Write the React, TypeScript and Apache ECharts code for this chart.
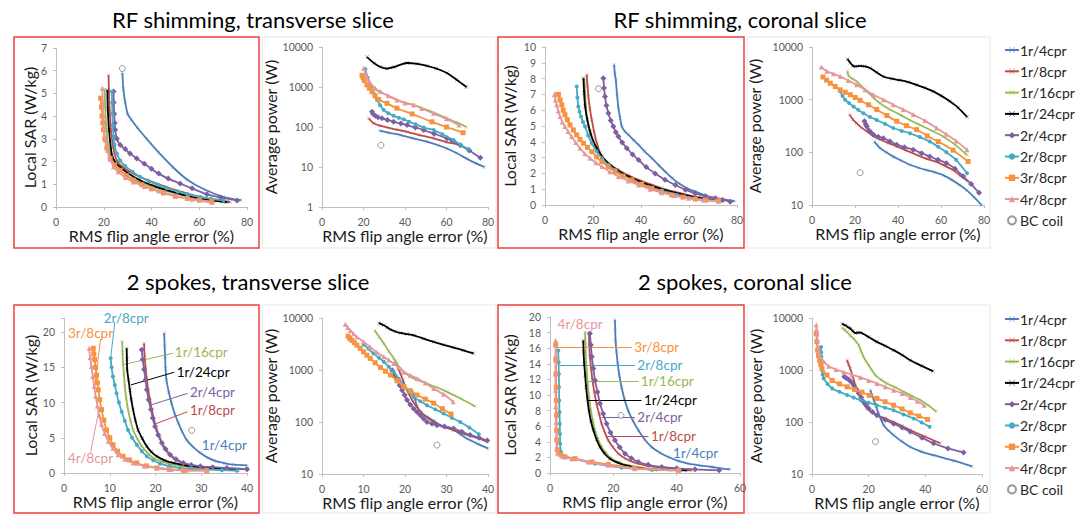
import React, { useEffect, useRef } from 'react';
import * as echarts from 'echarts';

// ---------- names & tick ranges ----------
const SERIES_NAMES = ['1r/4cpr', '1r/8cpr', '1r/16cpr', '1r/24cpr', '2r/4cpr', '2r/8cpr', '3r/8cpr', '4r/8cpr'];
const BC_NAME = 'BC coil';
const PANEL_TITLES = ['RF shimming, transverse slice', 'RF shimming, coronal slice', '2 spokes, transverse slice', '2 spokes, coronal slice'];
const X_NAME = 'RMS flip angle error (%)';
const SAR_NAME = 'Local SAR (W/kg)';
const POW_NAME = 'Average power (W)';

// ---------- data: [RMS flip angle error %, value] per series, order = SERIES_NAMES ----------
// RF shimming, transverse slice – Local SAR
const rfTransSar: number[][][] = [
  [[27.8, 5.9], [28.2, 5.2], [29, 4.6], [30, 4.1], [31.5, 3.85], [34, 3.5], [38, 3.0], [43, 2.4], [49, 1.75], [55, 1.2], [62, 0.78], [70, 0.45], [77.5, 0.3]],
  [[22, 5.8], [22.2, 5.0], [22.5, 4.2], [23, 3.4], [24, 2.6], [25.5, 2.05], [28, 1.75], [32.4, 1.47], [38, 1.2], [46.4, 0.88], [53, 0.65], [60.4, 0.44], [67, 0.3], [73, 0.22]],
  [[20.4, 5.2], [20.6, 4.4], [21, 3.6], [21.8, 2.8], [23, 2.2], [25, 1.8], [28, 1.5], [33, 1.2], [40, 0.9], [48, 0.65], [56, 0.45], [64, 0.3], [70, 0.22]],
  [[21.5, 5.15], [21.7, 4.3], [22.2, 3.4], [23.4, 2.3], [25, 1.95], [27, 1.75], [30, 1.5], [35.2, 1.18], [41, 0.93], [46.4, 0.74], [53, 0.55], [60.4, 0.37], [66, 0.28], [71.6, 0.22]],
  [[24.1, 5.08], [24.2, 4.6], [24.4, 4.1], [24.6, 3.7], [24.8, 3.4], [25.5, 3.0], [26.9, 2.73], [29, 2.55], [31, 2.35], [33.8, 2.14], [37, 1.9], [40, 1.68], [43, 1.47], [47, 1.25], [52, 1.03], [57, 0.82], [63.2, 0.56], [69, 0.42], [75.8, 0.29]],
  [[23.4, 5.08], [23.5, 4.6], [23.6, 4.1], [23.8, 3.6], [24.1, 3.1], [24.5, 2.75], [25.5, 2.35], [26.9, 2.05], [29, 1.8], [32, 1.55], [35.2, 1.33], [39, 1.13], [43, 0.97], [46.4, 0.83], [51, 0.68], [55, 0.57], [60.4, 0.44], [65, 0.36], [70.2, 0.29]],
  [[18.7, 4.79], [19, 4.4], [19.3, 4.0], [19.6, 3.7], [19.9, 3.4], [20.5, 3.0], [21.3, 2.6], [22.7, 2.14], [24.5, 1.85], [26.9, 1.62], [29.5, 1.38], [32.4, 1.18], [36, 0.98], [40, 0.8], [45, 0.62], [50, 0.47], [55, 0.38], [60, 0.3], [65.3, 0.25]],
  [[19.4, 5.23], [19.6, 4.6], [19.8, 4.0], [20.1, 3.5], [20.6, 2.95], [21.5, 2.5], [22.7, 2.1], [24.1, 1.77], [26, 1.55], [29, 1.3], [32.4, 1.1], [37, 0.9], [43, 0.7], [50, 0.5], [57, 0.34], [65.3, 0.2]],
];
const rfTransSarBC = [[27.8, 6.1]];

// RF shimming, transverse slice – Average power
const rfTransPow: number[][][] = [
  [[27.8, 81], [32, 72], [37.8, 63], [44, 52], [50.6, 43], [56, 35], [60.2, 29], [65, 22], [69.9, 16], [74, 12.5], [78.2, 10]],
  [[22.5, 165], [24.9, 124], [28, 108], [31.3, 98], [36, 86], [41, 76], [47, 63], [53.8, 52], [60, 42], [66.7, 35], [70.7, 26]],
  [[20.4, 2960], [22, 1700], [24.9, 940], [28, 750], [34.5, 525], [40, 400], [44.2, 355], [52, 250], [60.2, 165], [65, 130], [69.6, 100]],
  [[21.7, 5600], [25, 4000], [28, 3200], [31.3, 2880], [35, 3200], [41, 3980], [46, 3800], [50.6, 3390], [55, 2900], [60.2, 2230], [65, 1500], [69.6, 1000]],
  [[24.1, 240], [24.6, 210], [25.7, 190], [27, 175], [28.9, 165], [31.5, 150], [34.5, 135], [38, 122], [41, 112], [45, 97], [49, 84], [54, 68], [60.2, 52], [63, 44], [66.7, 35], [71, 26], [76.3, 17]],
  [[20.9, 2800], [22, 1700], [23.5, 1000], [25, 680], [26.5, 475], [28, 350], [29.7, 268], [32, 220], [34.5, 190], [37, 170], [39.4, 155], [42, 135], [45, 117], [49, 97], [53.8, 84], [58, 66], [63.5, 47], [67, 35], [70.7, 28]],
  [[19.3, 1950], [19.8, 1700], [20.4, 1450], [21.7, 1130], [22.8, 930], [24.1, 770], [25.6, 600], [27.3, 490], [31.3, 390], [36.1, 295], [43.4, 212], [53, 135], [60, 100], [68, 72]],
  [[20.1, 2960], [21, 2100], [22, 1600], [23.3, 1250], [25.5, 950], [28.1, 770], [32, 600], [36.1, 475], [40, 400], [44.2, 355], [48, 290], [53.8, 220], [60, 160], [66, 112]],
];
const rfTransPowBC = [[28.4, 35]];

// RF shimming, coronal slice – Local SAR
const rfCorSar: number[][][] = [
  [[28.8, 8.88], [29.1, 8.3], [29.5, 7.93], [30, 7.0], [30.6, 6.13], [31.3, 5.5], [32, 4.97], [33.3, 4.65], [34.8, 4.44], [37, 4.1], [39, 3.8], [41.5, 3.4], [44.5, 2.96], [47.5, 2.5], [50.1, 2.11], [53, 1.7], [55.7, 1.37], [59, 1.08], [62.6, 0.85], [66, 0.65], [69.6, 0.49], [74, 0.37], [79, 0.25]],
  [[17.4, 8.25], [17.7, 7.5], [18.1, 6.87], [18.7, 6.1], [19.5, 5.39], [20.5, 4.6], [21.6, 3.91], [23, 3.3], [25, 2.85], [27.5, 2.5], [30.6, 2.22], [34.5, 1.9], [39, 1.59], [44, 1.3], [48.7, 1.06], [55, 0.8], [62.6, 0.53], [68, 0.38], [73.7, 0.25]],
  [[16.4, 7.97], [16.8, 6.8], [17.4, 5.7], [18.1, 4.97], [19.3, 4.3], [20.9, 3.7], [22.8, 3.2], [25, 2.75], [28, 2.35], [32, 2.01], [36, 1.7], [40.3, 1.42], [46, 1.12], [51.5, 0.85], [57, 0.64], [62.6, 0.47], [68, 0.35], [73.7, 0.25]],
  [[16, 8.03], [16.3, 7.1], [16.7, 6.24], [17.6, 5.4], [18.8, 4.65], [20, 4.1], [21.6, 3.59], [23.8, 3.05], [26.4, 2.64], [30, 2.2], [34.8, 1.8], [39.5, 1.48], [44.5, 1.21], [50, 0.94], [57, 0.68], [64, 0.45], [72.3, 0.25]],
  [[24.3, 8.03], [24.6, 7.4], [25, 6.87], [25.6, 6.3], [26.4, 5.81], [27.4, 5.35], [28.5, 4.97], [29.5, 4.6], [30.6, 4.33], [32.2, 3.95], [34.1, 3.59], [36.5, 3.2], [39, 2.85], [42.2, 2.4], [45.9, 2.0], [50, 1.6], [54.3, 1.27], [58.5, 0.97], [62.6, 0.74], [67, 0.55], [71, 0.42], [74, 0.32], [77.2, 0.21]],
  [[13.2, 7.5], [13.5, 6.8], [13.9, 6.24], [14.4, 5.9], [15, 5.6], [15.8, 5.25], [16.7, 4.97], [18, 4.4], [19.5, 3.91], [21.5, 3.4], [23.7, 2.96], [26.3, 2.55], [29.2, 2.22], [33, 1.83], [37.6, 1.48], [43, 1.15], [48.7, 0.91], [55, 0.65], [62.6, 0.42], [67, 0.32], [72.3, 0.23]],
  [[4.9, 6.98], [5.6, 7.0], [6.3, 6.65], [7, 6.34], [7.6, 6.0], [8.3, 5.71], [9.3, 5.4], [10.4, 5.07], [11.8, 4.75], [13.2, 4.44], [14.6, 4.15], [16, 3.91], [17.7, 3.65], [19.5, 3.38], [21.5, 3.05], [23.7, 2.75], [26.3, 2.42], [29.2, 2.11], [32.5, 1.83], [36.2, 1.59], [40.3, 1.32], [44.5, 1.06], [48.5, 0.83], [52.9, 0.63], [57.5, 0.5], [62.6, 0.38], [67, 0.31], [72.3, 0.27]],
  [[3.9, 6.98], [4.3, 6.65], [4.9, 6.34], [5.5, 5.95], [6.3, 5.6], [7.2, 5.25], [8.3, 4.97], [9.6, 4.65], [11.1, 4.33], [12.8, 3.95], [14.6, 3.59], [16.6, 3.25], [18.8, 2.96], [21.2, 2.68], [23.7, 2.43], [27, 2.1], [30.6, 1.8], [34.7, 1.52], [39, 1.27], [43.8, 1.0], [48.7, 0.78], [54, 0.58], [59.8, 0.42], [66, 0.31], [72.3, 0.23]],
];
const rfCorSarBC = [[22.3, 7.36]];

// RF shimming, coronal slice – Average power
const rfCorPow: number[][][] = [
  [[29, 160], [30.3, 138], [31.7, 120], [34.5, 100], [37.8, 83], [41.5, 70], [45.6, 58], [49.5, 51], [53.3, 46], [57, 42], [61, 37], [65, 30], [68.7, 24], [72, 19], [75.5, 14], [78.8, 10]],
  [[17.5, 520], [19, 420], [20.8, 355], [23, 295], [25.5, 250], [28.5, 205], [31.7, 175], [35.5, 150], [39.4, 130], [44, 108], [48.6, 90], [53, 76], [57.9, 66], [62, 55], [65.6, 46], [69, 36], [72.6, 28]],
  [[16.5, 3470], [17, 2840], [18.8, 2500], [20.8, 2220], [23, 1800], [25.5, 1440], [28.5, 1100], [31.7, 850], [36, 660], [40.9, 520], [45.5, 410], [50.2, 330], [55.5, 260], [61, 200], [66.5, 140], [72.1, 89]],
  [[16.5, 5900], [17.8, 5000], [19, 4400], [20.1, 4270], [22.4, 4380], [24.5, 4300], [27, 3980], [30, 3300], [33.2, 2750], [37, 2500], [40.9, 2340], [44.8, 2150], [48.6, 1910], [52.5, 1680], [56.4, 1440], [60.2, 1180], [64.1, 930], [68, 700], [72.1, 470]],
  [[24.4, 390], [25, 340], [25.5, 310], [26.5, 260], [27.5, 235], [28.6, 215], [30.8, 198], [33.2, 185], [36.2, 162], [39.4, 140], [43, 125], [47.1, 112], [51, 96], [54.8, 83], [58.6, 72], [62.5, 62], [66.5, 49], [70.3, 35], [74, 25], [77.7, 17]],
  [[13.1, 1440], [14.2, 1180], [15.4, 1000], [17.2, 860], [19.3, 740], [21.5, 640], [23.9, 550], [27, 470], [30.1, 410], [34, 345], [37.8, 290], [41.7, 255], [45.6, 230], [50.2, 195], [54.8, 160], [58.7, 128], [62.5, 100], [67, 72], [72.1, 40]],
  [[5.1, 2690], [6.8, 2350], [8.5, 2050], [10.8, 1780], [13.1, 1540], [15.5, 1380], [17.8, 1240], [20.1, 1100], [22.4, 970], [26.3, 800], [30.1, 650], [34.8, 500], [39.4, 390], [44, 320], [48.6, 270], [53.6, 205], [58.7, 160], [65.6, 110], [72.6, 67]],
  [[4.3, 4170], [6.9, 3470], [10, 3100], [13.1, 2770], [16.9, 2300], [20.8, 1910], [24.7, 1550], [28.6, 1240], [33.2, 1000], [37.8, 800], [42.4, 650], [47.1, 520], [52.5, 400], [57.9, 290], [62.5, 220], [67, 165], [72.1, 112]],
];
const rfCorPowBC = [[22.4, 41]];

// 2 spokes, transverse slice – Local SAR
const spTransSar: number[][][] = [
  [[21.9, 19.86], [22, 18], [22.1, 16.5], [22.2, 14.8], [22.4, 13.2], [22.9, 11.5], [23.5, 9.9], [24.2, 8.4], [25, 7.1], [25.8, 5.9], [26.8, 4.7], [28.2, 3.7], [29.8, 2.84], [31.5, 2.15], [33.4, 1.65], [35.2, 1.38], [37.1, 1.18], [40, 1.09]],
  [[17.5, 18.4], [17.6, 16.8], [17.8, 15.1], [18.1, 13.4], [18.4, 11.8], [18.8, 10.4], [19.2, 9.0], [19.7, 7.5], [20.3, 6.1], [21, 4.9], [21.7, 3.78], [22.7, 2.9], [23.9, 2.13], [25.3, 1.6], [26.8, 1.18], [29.5, 0.9], [32.7, 0.71], [36, 0.62], [40, 0.57]],
  [[12.7, 18.7], [12.8, 17.1], [12.9, 15.6], [13.1, 14], [13.3, 12.3], [13.6, 10.6], [14, 9.0], [14.5, 7.5], [15.1, 6.1], [16, 4.9], [17, 3.78], [18.2, 2.9], [19.5, 2.13], [21.5, 1.6], [23.9, 1.18], [27.5, 0.85], [31.2, 0.61], [37.1, 0.43]],
  [[13.7, 17.7], [13.75, 16.2], [13.8, 14.7], [14.1, 13.2], [14.4, 11.8], [14.7, 10.4], [15.1, 9.0], [15.6, 7.5], [16.2, 6.1], [17.1, 4.9], [18.1, 3.78], [19.1, 3.0], [20.3, 2.36], [22, 1.8], [23.9, 1.42], [26.5, 1.1], [29.8, 0.85], [34, 0.62], [38, 0.47]],
  [[17, 17.5], [17.2, 16.1], [17.5, 14.7], [17.8, 13.2], [18.1, 11.8], [18.5, 10.4], [19, 9.0], [19.4, 7.8], [19.9, 6.6], [20.6, 5.4], [21.4, 4.26], [22.2, 3.4], [23.2, 2.6], [24.5, 1.95], [26.1, 1.42], [27.8, 1.15], [29.8, 0.95], [32.5, 0.82], [35.6, 0.71], [40, 0.55]],
  [[10.2, 16.3], [10.4, 15], [10.7, 13.7], [11.1, 12.5], [11.5, 11.3], [12, 10], [12.6, 8.7], [13.3, 7.4], [14, 6.1], [14.9, 5], [15.9, 4.0], [17, 3.1], [18.1, 2.36], [19.5, 1.8], [21, 1.32], [23, 0.98], [25.4, 0.71], [28, 0.57], [31.2, 0.47], [34.5, 0.4], [37.8, 0.33]],
  [[6.4, 17.7], [6.5, 16.9], [6.7, 16.1], [6.9, 15], [7.1, 13.9], [7.3, 12.8], [7.5, 11.8], [7.8, 10.4], [8.2, 9.0], [8.7, 7.5], [9.3, 6.1], [10, 5], [10.7, 4.0], [11.7, 3.1], [12.9, 2.36], [14.3, 1.85], [15.9, 1.42], [18, 1.0], [20.3, 0.71], [23, 0.52], [26.1, 0.38], [31.2, 0.33]],
  [[5.5, 17.7], [5.7, 16.4], [6, 15.1], [6.3, 13.7], [6.6, 12.3], [6.9, 10.9], [7.3, 9.5], [7.7, 8.2], [8.2, 6.9], [8.9, 5.6], [9.7, 4.5], [10.7, 3.5], [11.8, 2.6], [13.3, 1.95], [15.1, 1.42], [17.5, 1.0], [20.3, 0.71], [23.5, 0.52], [26.8, 0.38], [31.2, 0.38]],
];
const spTransSarBC = [[27.9, 6.05]];

// 2 spokes, transverse slice – Average power
const spTransPow: number[][][] = [
  [[21.9, 380], [22.4, 280], [22.9, 200], [24, 150], [25.3, 126], [27, 105], [28.5, 87], [30, 78], [31.7, 70], [33.3, 58], [34.9, 48], [37.5, 38], [40, 31]],
  [[17.7, 1490], [18.3, 1100], [18.9, 850], [19.5, 640], [20.1, 475], [20.9, 350], [21.7, 265], [22.7, 200], [23.7, 158], [25.3, 122], [26.9, 100], [29, 82], [31.7, 70], [34, 60], [36.5, 52], [39.8, 42]],
  [[12.7, 5760], [13.8, 4300], [14.9, 3240], [16.1, 2300], [17.3, 1670], [18.1, 1300], [18.9, 1070], [20.1, 880], [21.3, 740], [23.3, 630], [25.3, 550], [27.7, 460], [30.1, 380], [33.5, 280], [36.9, 200]],
  [[13.7, 7940], [14.3, 7600], [14.9, 7230], [15.7, 6600], [16.5, 6000], [17.7, 5500], [18.9, 5150], [20.5, 4900], [22.1, 4650], [24.5, 4000], [26.9, 3480], [29.3, 3050], [31.7, 2700], [34.1, 2380], [36.5, 2090]],
  [[16.9, 990], [17.5, 800], [18.1, 640], [18.7, 510], [19.3, 410], [19.9, 330], [20.5, 265], [21.3, 215], [22.1, 180], [22.9, 155], [23.7, 135], [24.5, 115], [25.3, 100], [26.5, 93], [27.7, 87], [29.5, 82], [31.7, 75], [33.7, 65], [35.7, 56], [37.8, 50], [39.8, 44]],
  [[10, 3090], [11.2, 2550], [12.4, 2080], [13.7, 1720], [14.9, 1440], [16.1, 1150], [17.3, 910], [18.5, 680], [19.7, 510], [20.9, 390], [22.1, 305], [23.7, 250], [25.3, 210], [27.3, 175], [29.3, 146], [31.3, 120], [33.3, 100], [35.5, 78], [37.8, 58]],
  [[6.3, 4460], [6.7, 4050], [7.2, 3720], [7.8, 3350], [8.4, 3010], [9.2, 2600], [10, 2240], [10.8, 1930], [11.6, 1670], [12.8, 1380], [14.1, 1120], [15.3, 950], [16.5, 800], [18.1, 620], [19.7, 480], [21.3, 400], [22.9, 330], [24.9, 275], [26.9, 230], [29, 180], [31.1, 142]],
  [[5.6, 7590], [6.2, 6600], [6.8, 5760], [7.6, 5000], [8.4, 4340], [10, 3500], [11.6, 2780], [13.2, 2200], [14.9, 1790], [16.1, 1550], [17.3, 1330], [18.5, 1100], [19.7, 910], [21.3, 790], [22.9, 690], [24.9, 560], [26.9, 440], [29.3, 340], [31.6, 245]],
];
const spTransPowBC = [[27.7, 36]];

// 2 spokes, coronal slice – Local SAR
const spCorSar: number[][][] = [
  [[20.5, 19.66], [20.6, 18.3], [20.7, 17], [21, 15.5], [21.4, 14], [21.9, 12.5], [22.6, 11], [23.5, 9.5], [24.7, 8.0], [26.2, 6.7], [27.9, 5.47], [29.9, 4.3], [32.1, 3.33], [34.7, 2.6], [37.4, 2.05], [40.5, 1.55], [43.7, 1.2], [47.5, 0.95], [51.1, 0.77], [54, 0.6], [56.8, 0.47]],
  [[12.3, 17.9], [12.4, 16.4], [12.6, 14.9], [13, 13.4], [13.4, 11.9], [14, 10.4], [14.7, 8.9], [15.5, 7.6], [16.3, 6.3], [17.3, 5.2], [18.4, 4.2], [19.9, 3.3], [21.6, 2.48], [24, 1.8], [26.8, 1.32], [30.5, 0.95], [35.3, 0.68], [40, 0.5], [44.7, 0.34]],
  [[11.1, 18.1], [11.2, 16.5], [11.3, 14.9], [11.6, 13.2], [11.9, 11.5], [12.3, 9.8], [12.9, 8.0], [13.5, 6.7], [14.2, 5.47], [15.2, 4.3], [16.3, 3.33], [17.8, 2.5], [19.5, 1.84], [22, 1.35], [24.7, 0.98], [28.5, 0.7], [33.2, 0.47], [37.5, 0.4], [41.6, 0.34]],
  [[10.5, 17], [10.6, 15.5], [10.8, 14], [11.1, 12.5], [11.4, 11], [11.8, 9.5], [12.3, 8.0], [12.9, 6.7], [13.7, 5.47], [14.7, 4.3], [15.8, 3.33], [17.2, 2.5], [18.9, 1.84], [21.5, 1.3], [24.7, 0.9], [28.5, 0.62], [33.2, 0.43], [38, 0.38], [43.2, 0.34]],
  [[12.6, 17.9], [12.9, 16.4], [13.2, 14.9], [13.7, 13.4], [14.2, 11.9], [15, 10.4], [15.8, 8.9], [16.8, 7.6], [17.9, 6.3], [19.1, 5.2], [20.5, 4.2], [22, 3.3], [23.7, 2.48], [25.7, 1.9], [27.9, 1.41], [31, 1.05], [35.3, 0.77], [40, 0.6], [45.8, 0.47], [53.4, 0.34]],
  [[2.6, 15.7], [2.7, 14.2], [2.8, 12.7], [2.85, 11], [2.9, 9.3], [3.0, 7.8], [3.1, 6.3], [3.15, 5], [3.2, 3.76], [3.5, 2.7], [4.7, 2.14], [7.9, 1.84], [14.2, 1.2], [22.6, 0.68], [32.1, 0.43], [41, 0.34]],
  [[1.8, 16.4], [1.85, 14.5], [1.9, 12.7], [1.95, 11], [2.0, 9.3], [2.05, 7.4], [2.1, 5.47], [2.2, 4.2], [2.3, 3.0], [3.2, 2.4], [4.7, 2.05], [7.9, 1.84], [13.2, 1.41], [18.4, 1.11], [26.8, 0.64], [40.5, 0.34]],
  [[1.8, 17], [1.75, 15], [1.7, 12.7], [1.75, 10.6], [1.8, 8.5], [1.9, 6.5], [2.0, 4.6], [2.3, 2.56], [3.7, 2.14], [6.8, 1.84], [12.1, 1.41], [18.4, 0.98], [26.8, 0.56], [40.5, 0.34]],
];
const spCorSarBC = [[22.4, 7.39]];

// 2 spokes, coronal slice – Average power
const spCorPow: number[][][] = [
  [[20.6, 410], [21.2, 330], [21.8, 265], [22.6, 200], [23.5, 146], [24.4, 110], [25.3, 87], [27, 68], [28.8, 56], [31.5, 43], [34.7, 33], [38.5, 27], [42.9, 23], [50, 18], [56.5, 14]],
  [[12.4, 1540], [12.9, 1280], [13.5, 1070], [14.4, 740], [15.3, 510], [16.2, 390], [17.1, 305], [18.2, 230], [19.4, 182], [21, 155], [22.9, 135], [25.8, 118], [28.8, 100], [31.8, 84], [34.7, 70], [40, 52], [45.3, 39]],
  [[10.6, 6490], [11.5, 5900], [12.4, 5340], [13.5, 4600], [14.7, 4000], [15.6, 3500], [16.5, 3000], [17.3, 2300], [18.2, 1790], [19.1, 1470], [20, 1240], [21.2, 980], [22.4, 790], [24.4, 650], [26.5, 550], [29.5, 460], [32.4, 380], [35.3, 315], [38.2, 265], [41, 210], [43.9, 158]],
  [[10.6, 7730], [11.8, 7230], [12.6, 6700], [13.5, 6290], [14.4, 5600], [15.3, 5150], [16.2, 5250], [17.1, 5220], [20, 4300], [22.9, 3480], [25.9, 2900], [28.8, 2410], [31.8, 1950], [34.7, 1540], [38.7, 1200], [42.7, 950]],
  [[11.4, 740], [12.1, 700], [12.9, 660], [13.8, 590], [14.7, 510], [15.6, 430], [16.5, 355], [17.4, 295], [18.2, 245], [19.1, 210], [20, 182], [21.4, 155], [22.9, 135], [25.8, 110], [28.8, 93], [31.8, 78], [34.7, 65], [38.8, 50], [42.9, 39], [48, 31], [53.5, 26]],
  [[3.2, 2770], [3.25, 2200], [3.3, 1790], [3.4, 1300], [3.5, 1000], [3.8, 820], [4.1, 690], [5.5, 540], [7.1, 440], [9.7, 380], [12.4, 330], [14.7, 295], [17.1, 265], [20, 235], [22.9, 210], [25.8, 188], [28.8, 168], [32.3, 140], [35.9, 117], [38.7, 98], [41.5, 81]],
  [[1.5, 5000], [1.7, 3500], [2.0, 2410], [2.3, 1900], [2.7, 1540], [3.1, 1280], [3.5, 1070], [5.3, 800], [7.1, 630], [9.7, 540], [12.4, 475], [15, 420], [17.6, 375], [20.2, 325], [22.9, 285], [25.8, 245], [28.8, 210], [31.8, 178], [34.7, 150], [37.7, 130], [40.8, 112]],
  [[1.5, 7400], [1.6, 6000], [1.8, 5000], [1.9, 3700], [2.0, 2770], [2.3, 2250], [2.7, 1910], [4.2, 1450], [5.9, 1180], [8.5, 1020], [11.2, 910], [14.1, 810], [17.1, 720], [20, 630], [22.9, 550], [25.9, 475], [28.8, 410], [31.8, 355], [34.7, 295], [37.2, 250], [39.6, 210]],
];
const spCorPowBC = [[22.4, 42]];

// Labels with leader lines (series index, label anchor, leader from curve -> label)
const spTransNotes = [
  { s: 5, at: [13.6, 22], align: 'center', from: [10.2, 16.3], to: [11.1, 21.4] },
  { s: 6, at: [5.8, 19.9], align: 'center', from: [6.7, 12.3], to: [8.0, 19.0] },
  { s: 2, at: [23.9, 17.2], align: 'left', from: [13.1, 15.4], to: [23.8, 17.0] },
  { s: 3, at: [24.3, 14.4], align: 'left', from: [14.6, 12.5], to: [24.1, 14.3] },
  { s: 4, at: [27.2, 11.5], align: 'left', from: [19.2, 9.7], to: [27.0, 11.3] },
  { s: 1, at: [27.2, 8.9], align: 'left', from: [20.1, 7.0], to: [27.0, 8.7] },
  { s: 0, at: [29.8, 4.0], align: 'left', from: null, to: null },
  { s: 7, at: [5.8, 2.1], align: 'center', from: [7.7, 9.2], to: [5.8, 2.9] },
];
const spCorNotes = [
  { s: 7, at: [9.5, 19.1], align: 'center', from: null, to: null },
  { s: 6, at: [26.1, 16.1], align: 'left', from: [1.8, 16.1], to: [25.8, 16.1] },
  { s: 5, at: [27.1, 13.8], align: 'left', from: [2.8, 13.8], to: [26.8, 13.8] },
  { s: 2, at: [28.2, 11.8], align: 'left', from: [11.6, 11.8], to: [27.9, 11.8] },
  { s: 3, at: [29.2, 9.3], align: 'left', from: [11.9, 9.3], to: [28.9, 9.3] },
  { s: 4, at: [27.1, 7.2], align: 'left', from: [16.3, 7.2], to: [26.8, 7.2] },
  { s: 1, at: [31.4, 4.74], align: 'left', from: [17.9, 4.74], to: [31.1, 4.74] },
  { s: 0, at: [38.4, 2.56], align: 'left', from: null, to: null },
];

// ---------- styles ----------
const COLORS = ['#4A7EBB', '#BE4B48', '#98B954', '#000000', '#7D60A0', '#46AAC5', '#F69240', '#E6979A'];
const X_SYMBOL = 'path://M0,1L1,0L5,4L9,0L10,1L6,5L10,9L9,10L5,6L1,10L0,9L4,5Z';
const SYMBOLS = [X_SYMBOL, X_SYMBOL, X_SYMBOL, X_SYMBOL, 'diamond', 'circle', 'rect', 'triangle'];
const SYMBOL_SIZES = [4, 4, 4, 4, 6, 4, 5, 5];
const SYMBOL_OPACITY = [0.45, 0.45, 0.45, 0.45, 1, 1, 1, 1];
const FONT = 'Lato, "Liberation Sans", Arial, sans-serif';
const AXIS_COLOR = '#BFBFBF';
const LABEL_COLOR = '#595959';

type Panel = {
  grid: any; xMax: number; xInt: number; yKind: 'sar' | 'pow'; yMin: number; yMax: number; yInt?: number;
  yNameGap: number; data: number[][][]; bc: number[][]; notes?: any[];
};

const PANELS: Panel[] = [
  { grid: { left: 56, top: 48, width: 191, height: 159 }, xMax: 80, xInt: 20, yKind: 'sar', yMin: 0, yMax: 7, yInt: 1, yNameGap: 19, data: rfTransSar, bc: rfTransSarBC },
  { grid: { left: 322, top: 47, width: 166, height: 160 }, xMax: 80, xInt: 20, yKind: 'pow', yMin: 1, yMax: 10000, yNameGap: 43, data: rfTransPow, bc: rfTransPowBC },
  { grid: { left: 545, top: 47, width: 192, height: 158 }, xMax: 80, xInt: 20, yKind: 'sar', yMin: 0, yMax: 10, yInt: 1, yNameGap: 28, data: rfCorSar, bc: rfCorSarBC },
  { grid: { left: 812, top: 47, width: 172, height: 158 }, xMax: 80, xInt: 20, yKind: 'pow', yMin: 10, yMax: 10000, yNameGap: 50, data: rfCorPow, bc: rfCorPowBC },
  { grid: { left: 64, top: 318, width: 183, height: 155 }, xMax: 40, xInt: 10, yKind: 'sar', yMin: 0, yMax: 22, yInt: 5, yNameGap: 21, data: spTransSar, bc: spTransSarBC, notes: spTransNotes },
  { grid: { left: 322, top: 318, width: 166, height: 156 }, xMax: 40, xInt: 10, yKind: 'pow', yMin: 10, yMax: 10000, yNameGap: 43, data: spTransPow, bc: spTransPowBC },
  { grid: { left: 550, top: 317, width: 190, height: 156 }, xMax: 60, xInt: 20, yKind: 'sar', yMin: 0, yMax: 20, yInt: 2, yNameGap: 33, data: spCorSar, bc: spCorSarBC, notes: spCorNotes },
  { grid: { left: 812, top: 318, width: 170, height: 156 }, xMax: 60, xInt: 20, yKind: 'pow', yMin: 10, yMax: 10000, yNameGap: 49, data: spCorPow, bc: spCorPowBC },
];

function buildOption() {
  const grids: any[] = [];
  const xAxes: any[] = [];
  const yAxes: any[] = [];
  const series: any[] = [];

  PANELS.forEach((p, i) => {
    grids.push({ ...p.grid, containLabel: false });
    xAxes.push({
      type: 'value', gridIndex: i, min: 0, max: p.xMax, interval: p.xInt,
      axisLine: { show: true, onZero: false, lineStyle: { color: AXIS_COLOR, width: 1 } },
      axisTick: { show: true, length: 3, lineStyle: { color: AXIS_COLOR } },
      splitLine: { show: false },
      axisLabel: { color: LABEL_COLOR, fontSize: 10.5, fontFamily: FONT, margin: 9 },
      name: X_NAME, nameLocation: 'middle', nameGap: 19,
      nameTextStyle: { color: '#1a1a1a', fontSize: 16, fontFamily: FONT },
    });
    const yBase: any = {
      gridIndex: i, min: p.yMin, max: p.yMax,
      axisLine: { show: true, lineStyle: { color: AXIS_COLOR, width: 1 } },
      axisTick: { show: true, length: 3, lineStyle: { color: AXIS_COLOR } },
      splitLine: { show: false },
      nameLocation: 'middle', nameGap: p.yNameGap,
      nameTextStyle: { color: '#1a1a1a', fontSize: 16, fontFamily: FONT },
    };
    if (p.yKind === 'sar') {
      const step = p.yInt as number;
      yAxes.push({
        ...yBase, type: 'value', interval: step, name: SAR_NAME,
        axisLabel: {
          color: LABEL_COLOR, fontSize: 10.5, fontFamily: FONT, margin: 9,
          formatter: (v: number) => (Math.abs(v / step - Math.round(v / step)) < 1e-6 ? String(v) : ''),
        },
      });
    } else {
      yAxes.push({
        ...yBase, type: 'log', logBase: 10, name: POW_NAME,
        axisLabel: { color: LABEL_COLOR, fontSize: 10.5, fontFamily: FONT, margin: 9, formatter: (v: number) => String(Math.round(v)) },
      });
    }

    p.data.forEach((d, k) => {
      const s: any = {
        type: 'line', name: SERIES_NAMES[k], xAxisIndex: i, yAxisIndex: i, data: d,
        smooth: 0.25, symbol: SYMBOLS[k], symbolSize: SYMBOL_SIZES[k], showSymbol: true,
        lineStyle: { color: COLORS[k], width: 1.8, opacity: 1 },
        itemStyle: { color: COLORS[k], opacity: SYMBOL_OPACITY[k] },
        emphasis: { disabled: true }, silent: true, clip: false, z: 2 + k,
      };
      const notes = (p.notes || []).filter((n) => n.s === k);
      if (notes.length) {
        const lines = notes.filter((n) => n.from).map((n) => [{ coord: n.from }, { coord: n.to }]);
        if (lines.length) {
          s.markLine = {
            silent: true, symbol: ['none', 'none'], animation: false,
            lineStyle: { color: COLORS[k], width: 1, type: 'solid', opacity: 1 },
            label: { show: false }, emphasis: { disabled: true }, data: lines,
          };
        }
        s.markPoint = {
          silent: true, animation: false, symbol: 'circle', symbolSize: 1,
          itemStyle: { color: 'rgba(0,0,0,0)', opacity: 1 },
          data: notes.map((n) => ({
            coord: n.at,
            label: {
              show: true, formatter: SERIES_NAMES[k], color: COLORS[k], fontSize: 13.5, fontFamily: FONT,
              position: n.align === 'left' ? 'right' : 'inside', distance: 1,
            },
          })),
        };
      }
      series.push(s);
    });
    series.push({
      type: 'scatter', name: BC_NAME, xAxisIndex: i, yAxisIndex: i, data: p.bc,
      symbol: 'circle', symbolSize: 6, silent: true, emphasis: { disabled: true },
      itemStyle: { color: '#ffffff', borderColor: '#7F7F7F', borderWidth: 1 }, z: 20,
    });
  });

  const legendNames = [...SERIES_NAMES, BC_NAME];
  const legendBase = {
    orient: 'vertical', left: 999, itemWidth: 14, itemHeight: 8, itemGap: 7.3,
    selectedMode: false, data: legendNames,
    textStyle: { fontSize: 14, fontFamily: FONT, color: '#262626', lineHeight: 14, padding: [0, 0, 0, -4] },
  };

  const boxes = [
    { x: 14, y: 37, w: 245, h: 211, c: '#E8423F', lw: 1.5 },
    { x: 498, y: 37, w: 246, h: 211, c: '#E8423F', lw: 1.5 },
    { x: 14, y: 305, w: 245, h: 208, c: '#E8423F', lw: 1.5 },
    { x: 498, y: 305, w: 246, h: 208, c: '#E8423F', lw: 1.5 },
    { x: 262, y: 37, w: 234, h: 211, c: '#E6E6E6', lw: 1 },
    { x: 747, y: 37, w: 243, h: 211, c: '#E6E6E6', lw: 1 },
    { x: 262, y: 305, w: 234, h: 208, c: '#E6E6E6', lw: 1 },
    { x: 747, y: 305, w: 243, h: 208, c: '#E6E6E6', lw: 1 },
  ];
  const titlePos = [[253, 19], [740, 19], [248, 281], [745, 281]];

  const graphic: any[] = [
    ...boxes.map((b) => ({
      type: 'rect', silent: true, z: -10,
      shape: { x: b.x, y: b.y, width: b.w, height: b.h },
      style: { fill: 'none', stroke: b.c, lineWidth: b.lw },
    })),
    ...PANEL_TITLES.map((t, i) => ({
      type: 'text', silent: true, x: titlePos[i][0], y: titlePos[i][1],
      style: { text: t, fontSize: 22, fontFamily: FONT, fill: '#000', textAlign: 'center', textVerticalAlign: 'middle' },
    })),
  ];

  return {
    animation: false,
    backgroundColor: '#ffffff',
    grid: grids,
    xAxis: xAxes,
    yAxis: yAxes,
    series,
    legend: [
      { ...legendBase, top: 38 },
      { ...legendBase, top: 307 },
    ],
    graphic,
  };
}

export default function App() {
  const ref = useRef<HTMLDivElement>(null);
  useEffect(() => {
    if (!ref.current) return;
    const chart = echarts.init(ref.current, null, { renderer: 'svg' });
    chart.setOption(buildOption() as any);
    return () => chart.dispose();
  }, []);
  return <div ref={ref} style={{ position: 'absolute', left: 0, top: 0, width: 1078, height: 515 }} />;
}
